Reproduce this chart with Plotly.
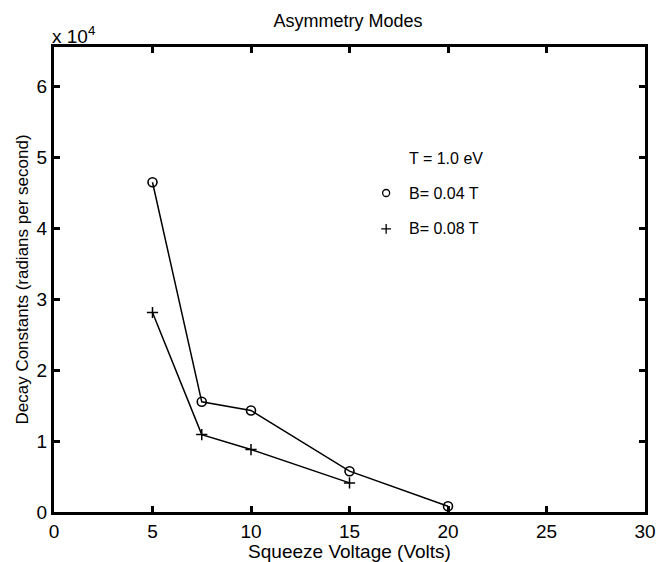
import plotly.graph_objects as go

# Data (Decay constants in radians per second)
volts_b004 = [5, 7.5, 10, 15, 20]
decay_b004 = [46450, 15520, 14300, 5750, 800]
volts_b008 = [5, 7.5, 10, 15]
decay_b008 = [28100, 10900, 8800, 4100]

x_ticks = [0, 5, 10, 15, 20, 25, 30]
y_ticks = [0, 10000, 20000, 30000, 40000, 50000, 60000]
y_ticktext = ["0", "1", "2", "3", "4", "5", "6"]

series_labels = ["B= 0.04 T", "B= 0.08 T"]
legend_header = "T = 1.0 eV"

FONT = "Liberation Sans, Arial, Helvetica, sans-serif"

fig = go.Figure()

fig.add_trace(go.Scatter(
    x=volts_b004, y=decay_b004, mode="lines+markers",
    line=dict(color="black", width=1.5),
    marker=dict(symbol="circle-open", size=9, color="black", line=dict(width=1.6)),
    showlegend=False))
fig.add_trace(go.Scatter(
    x=volts_b008, y=decay_b008, mode="lines+markers",
    line=dict(color="black", width=1.5),
    marker=dict(symbol="cross-thin-open", size=8, color="black", line=dict(width=1.5, color="black")),
    showlegend=False))

# Legend keys on an overlay axis spanning the plot area (0..1)
fig.add_trace(go.Scatter(
    x=[0.562], y=[0.686], xaxis="x2", yaxis="y2", mode="markers",
    marker=dict(symbol="circle-open", size=7, color="black", line=dict(width=1.3)),
    showlegend=False, hoverinfo="skip"))
fig.add_trace(go.Scatter(
    x=[0.562], y=[0.609], xaxis="x2", yaxis="y2", mode="markers",
    marker=dict(symbol="cross-thin-open", size=7, color="black", line=dict(width=1.3, color="black")),
    showlegend=False, hoverinfo="skip"))

axis_common = dict(
    showline=True, linecolor="black", linewidth=3, mirror="allticks",
    ticks="inside", ticklen=6, tickwidth=2.5, tickcolor="black",
    showgrid=False, zeroline=False, automargin=False,
    tickfont=dict(family=FONT, size=19, color="black"),
)

fig.update_layout(
    width=668, height=562,
    margin=dict(l=54, r=23, t=47, b=50),
    paper_bgcolor="white", plot_bgcolor="white",
    font=dict(family=FONT, color="black"),
    title=dict(text="Asymmetry Modes", x=0.521, xanchor="center", y=0.963, yanchor="middle",
               font=dict(family=FONT, size=18, color="black")),
    xaxis=dict(range=[0, 30], tickvals=x_ticks, ticktext=[str(v) for v in x_ticks],
               title=dict(text="Squeeze Voltage (Volts)", standoff=0,
                          font=dict(family=FONT, size=19, color="black")),
               **axis_common),
    yaxis=dict(range=[0, 65500], tickvals=y_ticks, ticktext=y_ticktext,
               title=dict(text="Decay Constants (radians per second)", standoff=4,
                          font=dict(family=FONT, size=17, color="black")),
               **axis_common),
    xaxis2=dict(range=[0, 1], overlaying="x", visible=False, fixedrange=True),
    yaxis2=dict(range=[0, 1], overlaying="y", visible=False, fixedrange=True),
    annotations=[
        dict(text="x 10<sup>4</sup>", xref="paper", yref="paper", x=0.0, y=1.0,
             xanchor="left", yanchor="bottom", showarrow=False, xshift=-4, yshift=-2,
             font=dict(family=FONT, size=19, color="black")),
        dict(text=legend_header, xref="paper", yref="paper", x=0.598, y=0.761,
             xanchor="left", yanchor="middle", showarrow=False,
             font=dict(family=FONT, size=16, color="black")),
        dict(text=series_labels[0], xref="paper", yref="paper", x=0.598, y=0.686,
             xanchor="left", yanchor="middle", showarrow=False,
             font=dict(family=FONT, size=16, color="black")),
        dict(text=series_labels[1], xref="paper", yref="paper", x=0.598, y=0.609,
             xanchor="left", yanchor="middle", showarrow=False,
             font=dict(family=FONT, size=16, color="black")),
    ],
)

fig.write_html("out.html")
